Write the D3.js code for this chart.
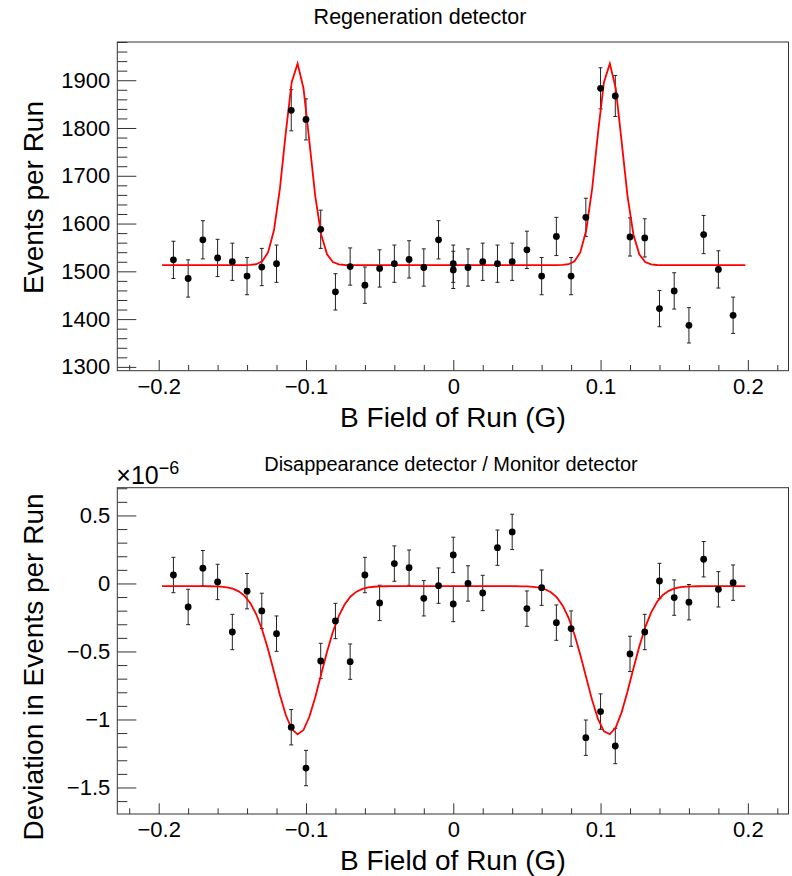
<!DOCTYPE html>
<html>
<head>
<meta charset="utf-8">
<script src="https://cdn.jsdelivr.net/npm/d3@7"></script>
<style>
  html, body { margin: 0; padding: 0; background: #fff; }
  svg { display: block; font-family: "Liberation Sans", Arial, Helvetica, sans-serif; }
</style>
</head>
<body>
<svg id="chart" width="792" height="876"></svg>
<script>
// ---------------- DATA ----------------
const bField = [-0.19,-0.18,-0.17,-0.16,-0.15,-0.14,-0.13,-0.12,-0.11,-0.10,
                -0.09,-0.08,-0.07,-0.06,-0.05,-0.04,-0.03,-0.02,-0.01,0.00,0.00,
                0.01,0.02,0.03,0.04,0.05,0.06,0.07,0.08,0.09,0.10,
                0.11,0.12,0.13,0.14,0.15,0.16,0.17,0.18,0.19];

const regenEvents = [1524,1485,1566,1528,1520,1490,1509,1516,1837,1818,
                     1588,1457,1510,1471,1506,1516,1525,1508,1566,1516,1503,
                     1508,1520,1516,1520,1545,1490,1573,1490,1613,1883,
                     1867,1572,1570,1422,1459,1387,1577,1504,1408];
const regenErrors = [39,39,40,39,39,39,39,39,43,43,
                     40,38,39,38,39,39,39,39,40,39,39,
                     39,39,39,39,39,39,40,39,40,43,
                     43,40,40,38,38,37,40,39,38];

const ratioDeviation = [0.062,-0.173,0.112,0.011,-0.357,-0.057,-0.202,-0.369,-1.057,-1.357,
                        -0.570,-0.276,-0.575,0.062,-0.143,0.146,0.116,-0.109,-0.016,0.210,-0.151,
                        0.000,-0.070,0.263,0.379,-0.185,-0.031,-0.288,-0.332,-1.134,-0.942,
                        -1.195,-0.518,-0.357,0.018,-0.104,-0.138,0.178,-0.043,0.006];
const ratioErrors = [0.13,0.13,0.13,0.13,0.13,0.13,0.13,0.13,0.13,0.13,
                     0.13,0.13,0.13,0.13,0.13,0.13,0.13,0.13,0.13,0.13,0.13,
                     0.13,0.13,0.13,0.13,0.13,0.13,0.13,0.13,0.13,0.13,
                     0.13,0.13,0.13,0.13,0.13,0.13,0.13,0.13,0.13];

// Gaussian fit parameters (baseline + two peaks)
const regenFitBaseline = 1513;
const regenFitCenters = [-0.106, 0.106];
const regenFitAmps = [422, 422];
const regenFitSigma = 0.0084;

const ratioFitBaseline = -0.02;
const ratioFitCenters = [-0.1055, 0.1055];
const ratioFitAmps = [-1.09, -1.09];
const ratioFitSigma = 0.0155;

const fitStart = -0.1977, fitStep = 0.004, fitNpx = 100;

const xMajorTicks = [-0.2, -0.1, 0, 0.1, 0.2];
const xTickLabels = ["\u22120.2", "\u22120.1", "0", "0.1", "0.2"];
const regenYTicks = [1300, 1400, 1500, 1600, 1700, 1800, 1900];
const regenYLabels = ["1300", "1400", "1500", "1600", "1700", "1800", "1900"];
const ratioYTicks = [-1.5, -1, -0.5, 0, 0.5];
const ratioYLabels = ["\u22121.5", "\u22121", "\u22120.5", "0", "0.5"];

const titles = {
  top: "Regeneration detector",
  bottom: "Disappearance detector / Monitor detector",
  xAxis: "B Field of Run (G)",
  yTop: "Events per Run",
  yBottom: "Deviation in Events per Run"
};

// ---------------- DRAWING ----------------
const svg = d3.select("#chart");
svg.append("rect").attr("width", 792).attr("height", 876).attr("fill", "#fff");

const frameL = 117.3, frameR = 788.5;
const x = d3.scaleLinear().domain([-0.2281, 0.2276]).range([frameL, frameR]);

function fitCurve(base, centers, amps, sigma) {
  return d3.range(fitNpx).map(i => {
    const xv = fitStart + fitStep * i;
    let v = base;
    centers.forEach((c, k) => { v += amps[k] * Math.exp(-((xv - c) ** 2) / (2 * sigma * sigma)); });
    return [xv, v];
  });
}

function panel(opts) {
  const { y, top, bottom, yMajor, yLabels, yMinorStep, values, errors, fit, title, titleX, titleY, titleSize, yTitle, yTitleY } = opts;
  const g = svg.append("g");

  // x minor ticks
  const xMinor = d3.range(-0.22, 0.2201, 0.02).filter(v => Math.abs(Math.round(v * 10) - v * 10) > 1e-6);
  g.append("g").attr("transform", `translate(0,${bottom})`)
    .call(d3.axisBottom(x).tickValues(xMinor).tickSize(-5.7).tickSizeOuter(0).tickFormat(""))
    .call(a => a.select(".domain").remove());
  // x major ticks with labels
  g.append("g").attr("transform", `translate(0,${bottom})`)
    .call(d3.axisBottom(x).tickValues(xMajorTicks).tickSize(-10.7).tickSizeOuter(0).tickPadding(7.5)
      .tickFormat((d, i) => xTickLabels[i]))
    .call(a => a.select(".domain").remove())
    .call(a => a.selectAll("text").attr("font-size", 22).attr("fill", "#000")
      .attr("font-family", "Liberation Sans, Arial, sans-serif"));

  // y minor ticks
  const [d0, d1] = y.domain();
  const yMinor = d3.range(Math.ceil(d0 / yMinorStep) * yMinorStep, d1 + 1e-9, yMinorStep)
    .filter(v => !yMajor.some(m => Math.abs(m - v) < yMinorStep * 1e-3));
  g.append("g").attr("transform", `translate(${frameL},0)`)
    .call(d3.axisLeft(y).tickValues(yMinor).tickSize(-10).tickSizeOuter(0).tickFormat(""))
    .call(a => a.select(".domain").remove());
  g.append("g").attr("transform", `translate(${frameL},0)`)
    .call(d3.axisLeft(y).tickValues(yMajor).tickSize(-19).tickSizeOuter(0).tickPadding(7)
      .tickFormat((d, i) => yLabels[i]))
    .call(a => a.select(".domain").remove())
    .call(a => a.selectAll("text").attr("font-size", 22).attr("fill", "#000")
      .attr("font-family", "Liberation Sans, Arial, sans-serif"));

  g.selectAll(".tick line").attr("stroke", "#333").attr("stroke-width", 1);

  // frame
  g.append("rect").attr("x", frameL).attr("y", top)
    .attr("width", frameR - frameL).attr("height", bottom - top)
    .attr("fill", "none").attr("stroke", "#333").attr("stroke-width", 1);

  // error bars
  const eb = g.append("g").attr("stroke", "#222").attr("stroke-width", 1);
  bField.forEach((bx, i) => {
    const cx = x(bx), y1 = y(values[i] + errors[i]), y2 = y(values[i] - errors[i]);
    eb.append("line").attr("x1", cx).attr("x2", cx).attr("y1", y1).attr("y2", y2);
    eb.append("line").attr("x1", cx - 2).attr("x2", cx + 2).attr("y1", y1).attr("y2", y1);
    eb.append("line").attr("x1", cx - 2).attr("x2", cx + 2).attr("y1", y2).attr("y2", y2);
  });

  // fit curve
  g.append("path").datum(fit)
    .attr("d", d3.line().x(d => x(d[0])).y(d => y(d[1])))
    .attr("fill", "none").attr("stroke", "#ff0000").attr("stroke-width", 1.8)
    .attr("stroke-linejoin", "miter");

  // markers
  g.append("g").selectAll("circle").data(bField).join("circle")
    .attr("cx", d => x(d)).attr("cy", (d, i) => y(values[i])).attr("r", 3.4).attr("fill", "#000");

  // titles
  svg.append("text").attr("x", titleX).attr("y", titleY).attr("text-anchor", "middle")
    .attr("font-size", titleSize).text(title);
  svg.append("text").attr("x", (frameL + frameR) / 2).attr("y", bottom + 56).attr("text-anchor", "middle")
    .attr("font-size", 28).text(titles.xAxis);
  svg.append("text").attr("transform", `translate(43,${yTitleY}) rotate(-90)`).attr("text-anchor", "middle")
    .attr("font-size", 28).text(yTitle);
  return g;
}

const yTop = d3.scaleLinear().domain([1292, 1980]).range([370.7, 42]);
panel({
  y: yTop, top: 42, bottom: 370.7, yMajor: regenYTicks, yLabels: regenYLabels, yMinorStep: 20,
  values: regenEvents, errors: regenErrors,
  fit: fitCurve(regenFitBaseline, regenFitCenters, regenFitAmps, regenFitSigma),
  title: titles.top, titleX: 420, titleY: 24, titleSize: 21.5, yTitle: titles.yTop, yTitleY: 197.5
});

const yBot = d3.scaleLinear().domain([-1.695, 0.704]).range([814, 487.7]);
panel({
  y: yBot, top: 487.7, bottom: 814, yMajor: ratioYTicks, yLabels: ratioYLabels, yMinorStep: 0.1,
  values: ratioDeviation, errors: ratioErrors,
  fit: fitCurve(ratioFitBaseline, ratioFitCenters, ratioFitAmps, ratioFitSigma),
  title: titles.bottom, titleX: 451, titleY: 471, titleSize: 20, yTitle: titles.yBottom, yTitleY: 667
});

// exponent label
const expo = svg.append("text").attr("x", frameL - 1).attr("y", 484).attr("font-size", 25);
expo.append("tspan").text("\u00d710");
expo.append("tspan").attr("dy", -10).attr("font-size", 18).text("\u22126");
</script>
</body>
</html>
